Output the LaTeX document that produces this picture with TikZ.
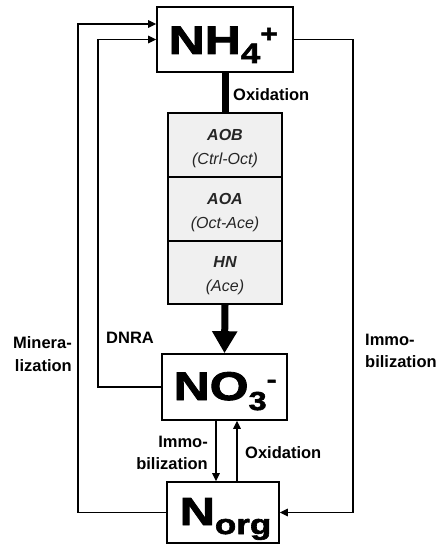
\documentclass[tikz,border=0pt]{standalone}
\usepackage{fontspec}
\setmainfont{Liberation Sans}
\newfontfamily\bigfont[FakeBold=2.2,FakeStretch=1.25]{Liberation Sans Bold}
\usetikzlibrary{arrows.meta}
\newcommand{\cellstrut}{\rule{0pt}{18pt}}
\begin{document}
\begin{tikzpicture}[x=1pt,y=-1pt]
\useasboundingbox (0,0) rectangle (439,545);
\tikzset{
 box/.style={draw, line width=1.6pt, fill=white, inner sep=0pt},
 bigtxt/.style={anchor=base west, inner sep=0pt},
 cell/.style={draw, line width=1.6pt, fill=gray!12, minimum width=114pt, minimum height=64pt, inner sep=0pt, align=center, font=\fontsize{16}{24}\selectfont\itshape, text=black!85},
 lbl/.style={font=\fontsize{16.5}{22.5}\selectfont\bfseries, inner sep=0pt},
 conn/.style={line width=1.3pt, -{Triangle[length=8pt,width=7.5pt]}},
 thick/.style={line width=7pt},
}
% main boxes
\node[box, minimum width=136pt, minimum height=65pt] (nh4) at (225,39.5) {};
\node[box, minimum width=125pt, minimum height=66pt] (no3) at (224.5,387) {};
\node[box, minimum width=112pt, minimum height=61pt] (norg) at (223,512.5) {};
\node[bigtxt] (nh4t) at (168.4,54)
 {\bigfont\fontsize{40}{40}\selectfont NH\raisebox{-9pt}{\fontsize{28}{28}\selectfont 4}\raisebox{12pt}{\fontsize{24}{24}\selectfont +}};
\node[bigtxt] (no3t) at (173.4,400)
 {\bigfont\fontsize{40}{40}\selectfont NO\raisebox{-10pt}{\fontsize{26}{26}\selectfont 3}\raisebox{12.5pt}{\fontsize{24}{24}\selectfont -}};
\node[bigtxt] (norgt) at (179.5,525)
 {\bigfont\fontsize{39}{39}\selectfont N\raisebox{-9pt}{\fontsize{28}{28}\selectfont org}};
% stack
\node[cell] (aob) at (225,145) {\cellstrut{\bfseries AOB}\\(Ctrl-Oct)};
\node[cell] (aoa) at (225,209) {\cellstrut{\bfseries AOA}\\(Oct-Ace)};
\node[cell, minimum height=63pt] (hn) at (225,272.5) {\cellstrut{\bfseries HN}\\(Ace)};
% thick connectors
\draw[thick] (nh4.south) -- (aob.north);
\draw[thick, -{Triangle[length=22pt,width=24pt]}] (hn.south) -- (no3.north);
% thin connectors
\coordinate (m1) at (78,512.5);
\coordinate (m2) at (78,24);
\draw[conn] (norg.west) -- (m1) -- (m2) -- (m2 -| nh4.west);
\coordinate (d1) at (98,39.5);
\draw[conn] (no3.west) -| (d1) -- (nh4.west);
\coordinate (r1) at (353,512.5);
\draw[conn] (nh4.east) -| (r1) -- (norg.east);
\coordinate (a1) at (216,0);
\coordinate (a2) at (237,0);
\draw[conn] (no3.south -| a1) -- (norg.north -| a1);
\draw[conn] (norg.north -| a2) -- (no3.south -| a2);
% labels
\node[lbl, anchor=west] (ox1) at (233,95) {Oxidation};
\node[lbl, anchor=east, align=right] (min) at (72,354) {Minera-\\lization};
\node[lbl, anchor=west] (dnra) at (106,338) {DNRA};
\node[lbl, anchor=west, align=left] (imm1) at (365,351) {Immo-\\bilization};
\node[lbl, anchor=east, align=right] (imm2) at (208,453) {Immo-\\bilization};
\node[lbl, anchor=west] (ox2) at (245,453) {Oxidation};
\end{tikzpicture}
\end{document}
